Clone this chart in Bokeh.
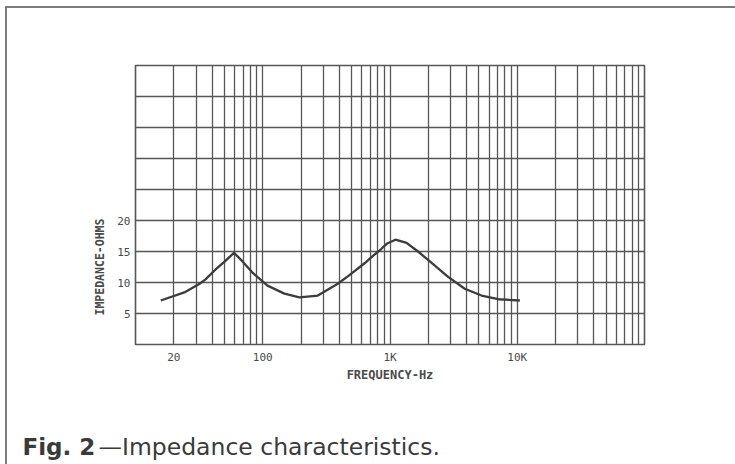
from bokeh.plotting import figure
from bokeh.layouts import column
from bokeh.models import Range1d, FixedTicker, Title
from bokeh.core.properties import value
from bokeh.embed import file_html
from bokeh.resources import INLINE

# ---- data ----
freq_hz = [15.8, 24.2, 31.9, 35.5, 42.6, 50.9, 59.5, 69.3, 84, 109, 148, 194, 271,
           389, 480, 631, 746, 853, 951, 1104, 1350, 1660, 2113, 2862, 3867, 5236,
           7080, 10480]
impedance_ohms = [7.1, 8.4, 9.8, 10.5, 12.1, 13.5, 14.8, 13.4, 11.5, 9.5, 8.2, 7.6, 7.9,
                  9.8, 11.2, 13.1, 14.4, 15.4, 16.3, 16.9, 16.4, 15.0, 13.2, 10.9, 9.0, 7.9,
                  7.3, 7.1]
x_tick_values = [20, 100, 1000, 10000]
x_tick_labels = ["20", "100", "1K", "10K"]
y_tick_values = [5, 10, 15, 20]
y_tick_labels = ["5", "10", "15", "20"]
x_grid_values = [m * 10 ** k for k in range(1, 5) for m in range(1, 10)] + [100000]
y_grid_values = list(range(0, 50, 5))
caption_bold = "Fig. 2"
caption_rest = "\u2014Impedance characteristics."
x_title = "FREQUENCY-Hz"
y_title = "IMPEDANCE-OHMS"

GRID = "#565656"
TXT = "#4a4a4a"
CAP = "#3a3a3a"

W, H_MAIN, H_CAP = 735, 400, 64

p = figure(width=W, height=H_MAIN, x_axis_type="log",
           x_range=Range1d(10, 100000), y_range=Range1d(0, 45),
           output_backend="svg", toolbar_location=None,
           min_border_left=135, min_border_right=91,
           min_border_top=65, min_border_bottom=56)
p.frame_align = False
p.background_fill_color = "white"
p.border_fill_color = None
p.outline_line_color = GRID
p.outline_line_width = 1.6

p.xgrid.ticker = FixedTicker(ticks=x_grid_values)
p.ygrid.ticker = FixedTicker(ticks=y_grid_values)
for g in (p.xgrid, p.ygrid):
    g.grid_line_color = GRID
    g.grid_line_width = 1.3
    g.grid_line_alpha = 1.0

p.xaxis.ticker = FixedTicker(ticks=x_tick_values)
p.xaxis.major_label_overrides = dict(zip(x_tick_values, x_tick_labels))
p.yaxis.ticker = FixedTicker(ticks=y_tick_values)
p.yaxis.major_label_overrides = dict(zip(y_tick_values, y_tick_labels))
for ax in (p.xaxis, p.yaxis):
    ax.axis_line_color = None
    ax.major_tick_line_color = None
    ax.minor_tick_line_color = None
    ax.major_tick_in = 0
    ax.major_tick_out = 0
    ax.major_label_text_font = "DejaVu Sans Mono"
    ax.major_label_text_font_size = "11px"
    ax.major_label_text_color = TXT
p.xaxis.major_label_standoff = 6
p.yaxis.major_label_standoff = 5

p.xaxis.axis_label = x_title
p.xaxis.axis_label_text_font = "DejaVu Sans Mono"
p.xaxis.axis_label_text_font_style = "bold"
p.xaxis.axis_label_text_font_size = "12px"
p.xaxis.axis_label_text_color = TXT
p.xaxis.axis_label_standoff = 1

p.add_layout(Title(text=y_title, align="left", offset=29, standoff=16,
                   text_font="DejaVu Sans Mono", text_font_style="bold",
                   text_font_size="11.5px", text_color=TXT), "left")

p.line(freq_hz, impedance_ohms, line_color="#3c3c3c", line_width=2.3,
       line_join="round")

# caption strip below the chart
cap = figure(width=W, height=H_CAP, x_range=Range1d(0, W), y_range=Range1d(H_MAIN + H_CAP, H_MAIN),
             output_backend="svg", toolbar_location=None,
             min_border=0, x_axis_location=None, y_axis_location=None)
cap.frame_align = False
cap.outline_line_color = None
cap.background_fill_color = None
cap.border_fill_color = None
cap.xgrid.visible = False
cap.ygrid.visible = False
cap.text(x=[22], y=[446], text=[caption_bold], text_font=value("DejaVu Sans"),
         text_font_style="bold", text_font_size="23px", text_color=CAP,
         text_align="left", text_baseline="alphabetic")
cap.text(x=[98], y=[446], text=[caption_rest], text_font=value("DejaVu Sans"),
         text_font_size="23.5px", text_color=CAP,
         text_align="left", text_baseline="alphabetic")

layout = column(p, cap, spacing=0, styles={
    "background": "linear-gradient(#7c7c7c,#7c7c7c) 5px 6px / 730px 2px no-repeat, "
                  "linear-gradient(#7c7c7c,#7c7c7c) 5px 6px / 2px 458px no-repeat, white"})

open("out.html", "w").write(file_html(layout, INLINE))
